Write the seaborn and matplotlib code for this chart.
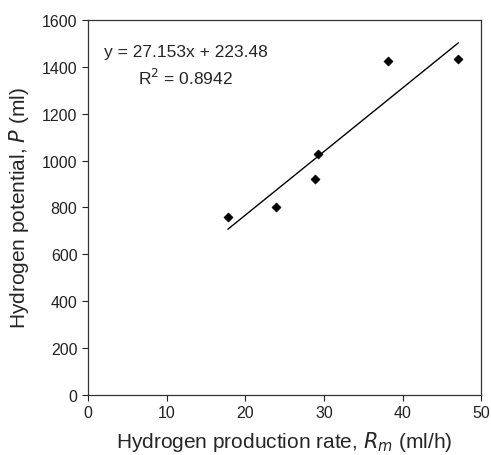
import numpy as np
import pandas as pd
import seaborn as sns
import matplotlib.pyplot as plt

# data
rate = [17.8, 23.9, 28.9, 29.3, 38.1, 47.1]
potential = [760, 800, 920, 1030, 1425, 1435]
slope = 27.153
intercept = 223.48
r2 = 0.8942

df = pd.DataFrame({'Rm': rate, 'P': potential})
fit_x = np.array([min(rate), max(rate)])
fit_df = pd.DataFrame({'Rm': fit_x, 'P': slope * fit_x + intercept})

sns.set_style('ticks')
plt.rcParams['font.family'] = ['Liberation Sans', 'DejaVu Sans']

fig = plt.figure(figsize=(4.91, 4.56), dpi=100)
ax = fig.add_axes([0.179, 0.132, 0.801, 0.822])

sns.lineplot(data=fit_df, x='Rm', y='P', color='black', linewidth=1.0, ax=ax)
sns.scatterplot(data=df, x='Rm', y='P', marker='D', color='black',
                s=22, edgecolor='black', ax=ax, zorder=3)

ax.set_xlim(0, 50)
ax.set_ylim(0, 1600)
ax.set_xticks(range(0, 51, 10))
ax.set_yticks(range(0, 1601, 200))
ax.tick_params(labelsize=11.5, direction='out', length=4, width=0.8, colors='#222222')
for s in ax.spines.values():
    s.set_visible(True)
    s.set_linewidth(0.9)
    s.set_color('#333333')

ax.text(12.4, 1466, f'y = {slope}x + {intercept}', ha='center', va='center', fontsize=12.5)
ax.text(12.4, 1355, f'R$^2$ = {r2}', ha='center', va='center', fontsize=12.5)

ax.set_xlabel('Hydrogen production rate, $R_m$ (ml/h)', size=15, labelpad=6)
ax.set_ylabel('Hydrogen potential, $P$ (ml)', size=15, labelpad=8)

fig.savefig('out.png', dpi=100)
